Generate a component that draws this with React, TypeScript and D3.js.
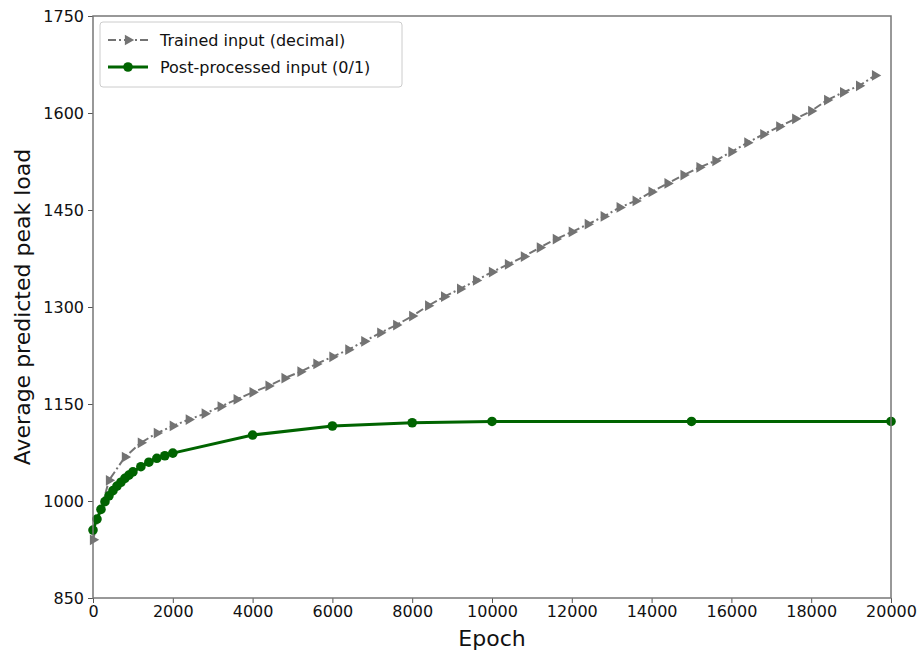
import React, { useEffect, useRef } from "react";
import * as d3 from "d3";

const grayEpochs = [0, 400, 800, 1200, 1600, 2000, 2400, 2800, 3200, 3600, 4000, 4400, 4800, 5200, 5600, 6000, 6400, 6800, 7200, 7600, 8000, 8400, 8800, 9200, 9600, 10000, 10400, 10800, 11200, 11600, 12000, 12400, 12800, 13200, 13600, 14000, 14400, 14800, 15200, 15600, 16000, 16400, 16800, 17200, 17600, 18000, 18400, 18800, 19200, 19600];
const grayValues = [940, 1032, 1068, 1090, 1105, 1116, 1126, 1135, 1146, 1157, 1168, 1178, 1190, 1200, 1212, 1223, 1234, 1247, 1260, 1272, 1286, 1302, 1316, 1328, 1341, 1354, 1366, 1378, 1392, 1405, 1416, 1428, 1440, 1454, 1464, 1478, 1491, 1504, 1516, 1526, 1540, 1554, 1567, 1579, 1591, 1603, 1620, 1632, 1642, 1658];

const greenEpochs = [0, 100, 200, 300, 400, 500, 600, 700, 800, 900, 1000, 1200, 1400, 1600, 1800, 2000, 4000, 6000, 8000, 10000, 15000, 20000];
const greenValues = [955, 972, 987, 999, 1008, 1016, 1023, 1029, 1035, 1040, 1045, 1053, 1060, 1066, 1070, 1074, 1102, 1116, 1121, 1123, 1123, 1123];

const xTicks = [0, 2000, 4000, 6000, 8000, 10000, 12000, 14000, 16000, 18000, 20000];
const yTicks = [850, 1000, 1150, 1300, 1450, 1600, 1750];
const legendLabels = ["Trained input (decimal)", "Post-processed input (0/1)"];

const W = 921, H = 655;
const M = { left: 93, right: 891, top: 16, bottom: 598 };
const GRAY = "#737373";
const GREEN = "#006400";
const FONT = "DejaVu Sans, sans-serif";

export default function App() {
  const ref = useRef<SVGSVGElement>(null);
  useEffect(() => {
    const svg = d3.select(ref.current);
    svg.selectAll("*").remove();
    const x = d3.scaleLinear().domain([0, 20000]).range([M.left, M.right]);
    const y = d3.scaleLinear().domain([850, 1750]).range([M.bottom, M.top]);

    svg.append("rect").attr("width", W).attr("height", H).attr("fill", "white");

    const xa = svg.append("g").attr("transform", `translate(0,${M.bottom})`)
      .call(d3.axisBottom(x).tickValues(xTicks).tickSize(5).tickPadding(3).tickFormat(d3.format("d")));
    const ya = svg.append("g").attr("transform", `translate(${M.left},0)`)
      .call(d3.axisLeft(y).tickValues(yTicks).tickSize(5).tickPadding(4).tickFormat(d3.format("d")));
    [xa, ya].forEach(a => {
      a.select(".domain").remove();
      a.selectAll("line").attr("stroke", "#555").attr("stroke-width", 1);
      a.selectAll("text").attr("font-family", FONT).attr("font-size", 16).attr("fill", "#111");
    });

    const gData = grayEpochs.map((e, i) => [e, grayValues[i]] as [number, number]);
    const nData = greenEpochs.map((e, i) => [e, greenValues[i]] as [number, number]);
    const line = d3.line<[number, number]>().x(d => x(d[0])).y(d => y(d[1]));

    const plot = svg.append("g");
    plot.append("path").attr("d", line(gData)).attr("fill", "none").attr("stroke", GRAY)
      .attr("stroke-width", 2).attr("stroke-dasharray", "8,3,2,3");
    const tri = d3.symbol().type(d3.symbolTriangle).size(50);
    plot.selectAll(".gm").data(gData).enter().append("path")
      .attr("d", tri()).attr("fill", GRAY)
      .attr("transform", d => `translate(${x(d[0])},${y(d[1])}) rotate(90)`);

    plot.append("path").attr("d", line(nData)).attr("fill", "none").attr("stroke", GREEN)
      .attr("stroke-width", 3);
    plot.selectAll(".nm").data(nData).enter().append("circle")
      .attr("cx", d => x(d[0])).attr("cy", d => y(d[1])).attr("r", 4.8).attr("fill", GREEN);

    svg.append("rect").attr("x", M.left).attr("y", M.top)
      .attr("width", M.right - M.left).attr("height", M.bottom - M.top)
      .attr("fill", "none").attr("stroke", "#777").attr("stroke-width", 1.5);

    svg.append("text").attr("x", (M.left + M.right) / 2).attr("y", 646)
      .attr("text-anchor", "middle").attr("font-family", FONT).attr("font-size", 22).attr("fill", "#111").text("Epoch");
    svg.append("text").attr("transform", `translate(30,${(M.top + M.bottom) / 2}) rotate(-90)`)
      .attr("text-anchor", "middle").attr("font-family", FONT).attr("font-size", 22).attr("fill", "#111")
      .text("Average predicted peak load");

    const lg = svg.append("g");
    lg.append("rect").attr("x", 100).attr("y", 22).attr("width", 302).attr("height", 65).attr("rx", 3)
      .attr("fill", "white").attr("stroke", "#ccc");
    const ly = [40, 67];
    lg.append("line").attr("x1", 108).attr("x2", 148).attr("y1", ly[0]).attr("y2", ly[0])
      .attr("stroke", GRAY).attr("stroke-width", 2).attr("stroke-dasharray", "8,3,2,3");
    lg.append("path").attr("d", tri()).attr("fill", GRAY).attr("transform", `translate(128,${ly[0]}) rotate(90)`);
    lg.append("line").attr("x1", 108).attr("x2", 148).attr("y1", ly[1]).attr("y2", ly[1])
      .attr("stroke", GREEN).attr("stroke-width", 3);
    lg.append("circle").attr("cx", 128).attr("cy", ly[1]).attr("r", 4.8).attr("fill", GREEN);
    legendLabels.forEach((t, i) => {
      lg.append("text").attr("x", 160).attr("y", ly[i]).attr("dy", "0.35em")
        .attr("font-family", FONT).attr("font-size", 16).attr("fill", "#111").text(t);
    });
  }, []);
  return <svg ref={ref} width={W} height={H} style={{ display: "block", position: "absolute", left: 0, top: 0 }} />;
}
